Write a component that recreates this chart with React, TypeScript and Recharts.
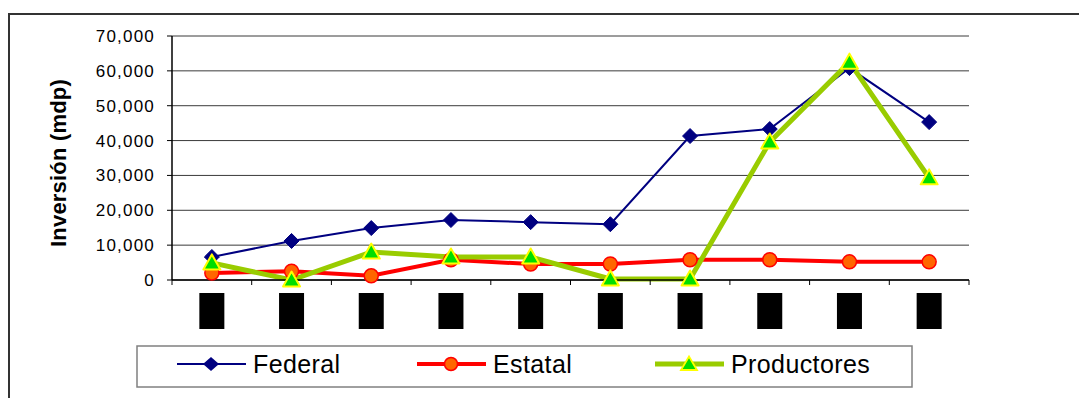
import React from "react";
import {
  LineChart,
  Line,
  XAxis,
  YAxis,
  CartesianGrid,
  Legend
} from "recharts";

// Años del eje X y montos por fuente (millones de pesos)
const years = ["1998", "1999", "2000", "2001", "2002", "2003", "2004", "2005", "2006", "2007"];
const federal = [6600, 11200, 14900, 17200, 16600, 16000, 41300, 43300, 60800, 45300];
const estatal = [2000, 2500, 1200, 5800, 4600, 4600, 5800, 5800, 5200, 5200];
const productores = [4900, 0, 8000, 6600, 6600, 300, 300, 39600, 62500, 29300];
const yTicks = [0, 10000, 20000, 30000, 40000, 50000, 60000, 70000];

const data = years.map((year, i) => ({
  year,
  federal: federal[i],
  estatal: estatal[i],
  productores: productores[i]
}));

const FONT = "'Liberation Sans', Arial, sans-serif";
const W = 1079;
const H = 398;
const PLOT_LEFT = 172;
const PLOT_RIGHT = 969;
const PLOT_TOP = 36;
const PLOT_BOTTOM = 280;
const BAND = (PLOT_RIGHT - PLOT_LEFT) / years.length;

const NAVY = "#000080";
const RED = "#FF0000";
const LIME = "#99CC00";

const Diamond = (props: any) => {
  const { cx, cy, index } = props;
  const s = 7.5;
  return (
    <path
      key={`d-${index}`}
      d={`M${cx},${cy - s} L${cx + s},${cy} L${cx},${cy + s} L${cx - s},${cy} Z`}
      fill={NAVY}
      stroke={NAVY}
      strokeWidth={1}
    />
  );
};

const Circle = (props: any) => {
  const { cx, cy, index } = props;
  return (
    <circle key={`c-${index}`} cx={cx} cy={cy} r={7} fill="#FF6600" stroke={RED} strokeWidth={1.5} />
  );
};

const Triangle = (props: any) => {
  const { cx, cy, index } = props;
  return (
    <path
      key={`t-${index}`}
      d={`M${cx},${cy - 8.5} L${cx + 8.5},${cy + 6.5} L${cx - 8.5},${cy + 6.5} Z`}
      fill="#00DD00"
      stroke="#FFFF00"
      strokeWidth={2}
      strokeLinejoin="round"
    />
  );
};

// Etiqueta de categoría: bloque negro vertical y marca entre categorías
const YearTick = (props: any) => {
  const { x, payload, index } = props;
  const left = x - BAND / 2;
  return (
    <g>
      <line x1={left} y1={PLOT_BOTTOM} x2={left} y2={PLOT_BOTTOM + 5} stroke="#000" />
      {index === years.length - 1 && (
        <line x1={x + BAND / 2} y1={PLOT_BOTTOM} x2={x + BAND / 2} y2={PLOT_BOTTOM + 5} stroke="#000" />
      )}
      <rect x={x - 12.5} y={PLOT_BOTTOM + 13} width={25} height={36} fill="#000" />
      <text
        x={x}
        y={PLOT_BOTTOM + 31}
        transform={`rotate(-90 ${x} ${PLOT_BOTTOM + 31})`}
        textAnchor="middle"
        dominantBaseline="central"
        fontFamily={FONT}
        fontSize={14}
        fontWeight="bold"
        fill="#000"
      >
        {payload.value}
      </text>
    </g>
  );
};

const legendItems = [
  { label: "Federal", color: NAVY, width: 2, marker: "diamond", x: 41 },
  { label: "Estatal", color: RED, width: 4, marker: "circle", x: 281 },
  { label: "Productores", color: LIME, width: 5, marker: "triangle", x: 519 }
];

const LegendBox = () => (
  <svg width={777} height={43} style={{ display: "block" }}>
    <rect x={1} y={1} width={775} height={41} fill="#fff" stroke="#808080" strokeWidth={1.5} />
    {legendItems.map((it) => {
      const cy = 19;
      const mx = it.x + 34;
      let marker: React.ReactNode = null;
      if (it.marker === "diamond") {
        marker = <path d={`M${mx},${cy - 7} L${mx + 8},${cy} L${mx},${cy + 7} L${mx - 8},${cy} Z`} fill={NAVY} />;
      } else if (it.marker === "circle") {
        marker = <circle cx={mx} cy={cy} r={6.5} fill="#FF6600" stroke={RED} strokeWidth={1.5} />;
      } else {
        marker = (
          <path
            d={`M${mx},${cy - 7.5} L${mx + 8},${cy + 6} L${mx - 8},${cy + 6} Z`}
            fill="#00DD00"
            stroke="#FFFF00"
            strokeWidth={1.8}
          />
        );
      }
      return (
        <g key={it.label}>
          <line x1={it.x} y1={cy} x2={it.x + 69} y2={cy} stroke={it.color} strokeWidth={it.width} />
          {marker}
          <text
            x={it.x + 76}
            y={cy + 9}
            fontFamily={FONT}
            fontSize={25}
            letterSpacing={0.4}
            fill="#000"
          >
            {it.label}
          </text>
        </g>
      );
    })}
  </svg>
);

export default function App() {
  return (
    <div style={{ position: "fixed", left: 0, top: 0, width: W, height: H, background: "#fff", overflow: "hidden" }}>
      <div
        style={{
          position: "absolute",
          left: 8,
          top: 13,
          width: W,
          height: H,
          borderLeft: "2px solid #333",
          borderTop: "2px solid #333"
        }}
      />
      <LineChart
        width={W}
        height={H}
        data={data}
        margin={{ top: PLOT_TOP, right: W - PLOT_RIGHT, left: PLOT_LEFT - 90, bottom: H - PLOT_BOTTOM - 60 }}
        style={{ position: "absolute", left: 0, top: 0 }}
      >
        <CartesianGrid vertical={false} stroke="#3a3a3a" strokeWidth={1} />
        <XAxis
          dataKey="year"
          height={60}
          padding={{ left: BAND / 2, right: BAND / 2 }}
          axisLine={{ stroke: "#000", strokeWidth: 1.5 }}
          tickLine={false}
          tick={<YearTick />}
          interval={0}
        />
        <YAxis
          width={90}
          domain={[0, 70000]}
          ticks={yTicks}
          interval={0}
          axisLine={{ stroke: "#000", strokeWidth: 1.5 }}
          tickLine={{ stroke: "#000" }}
          tickSize={5}
          tickMargin={12}
          tick={{ fill: "#000", fontSize: 17, fontFamily: FONT, letterSpacing: 1.2 }}
          tickFormatter={(v: number) => v.toLocaleString("en-US")}
          label={{
            content: ({ viewBox }: any) => {
              const x = viewBox.x - 24;
              const y = viewBox.y + viewBox.height / 2 + 5;
              return (
                <text
                  x={x}
                  y={y}
                  transform={`rotate(-90 ${x} ${y})`}
                  textAnchor="middle"
                  dominantBaseline="central"
                  fontFamily={FONT}
                  fontSize={22}
                  fontWeight="bold"
                  letterSpacing={0.2}
                  fill="#000"
                >
                  Inversión (mdp)
                </text>
              );
            }
          }}
        />
        <YAxis
          yAxisId="frame"
          orientation="right"
          width={0}
          domain={[0, 70000]}
          tick={false}
          tickLine={false}
          axisLine={{ stroke: "#808080", strokeWidth: 2.5 }}
        />
        <Line
          dataKey="federal"
          name="Federal"
          stroke={NAVY}
          strokeWidth={2}
          dot={(p: any) => <Diamond {...p} key={`d-${p.index}`} />}
          activeDot={false}
          isAnimationActive={false}
        />
        <Line
          dataKey="estatal"
          name="Estatal"
          stroke={RED}
          strokeWidth={4}
          dot={(p: any) => <Circle {...p} key={`c-${p.index}`} />}
          activeDot={false}
          isAnimationActive={false}
        />
        <Line
          dataKey="productores"
          name="Productores"
          stroke={LIME}
          strokeWidth={5}
          dot={(p: any) => <Triangle {...p} key={`t-${p.index}`} />}
          activeDot={false}
          isAnimationActive={false}
        />
        <Legend
          verticalAlign="middle"
          layout="horizontal"
          width={777}
          height={43}
          wrapperStyle={{ left: 136, top: 345, width: 777, height: 43 }}
          content={() => <LegendBox />}
        />
      </LineChart>
    </div>
  );
}
